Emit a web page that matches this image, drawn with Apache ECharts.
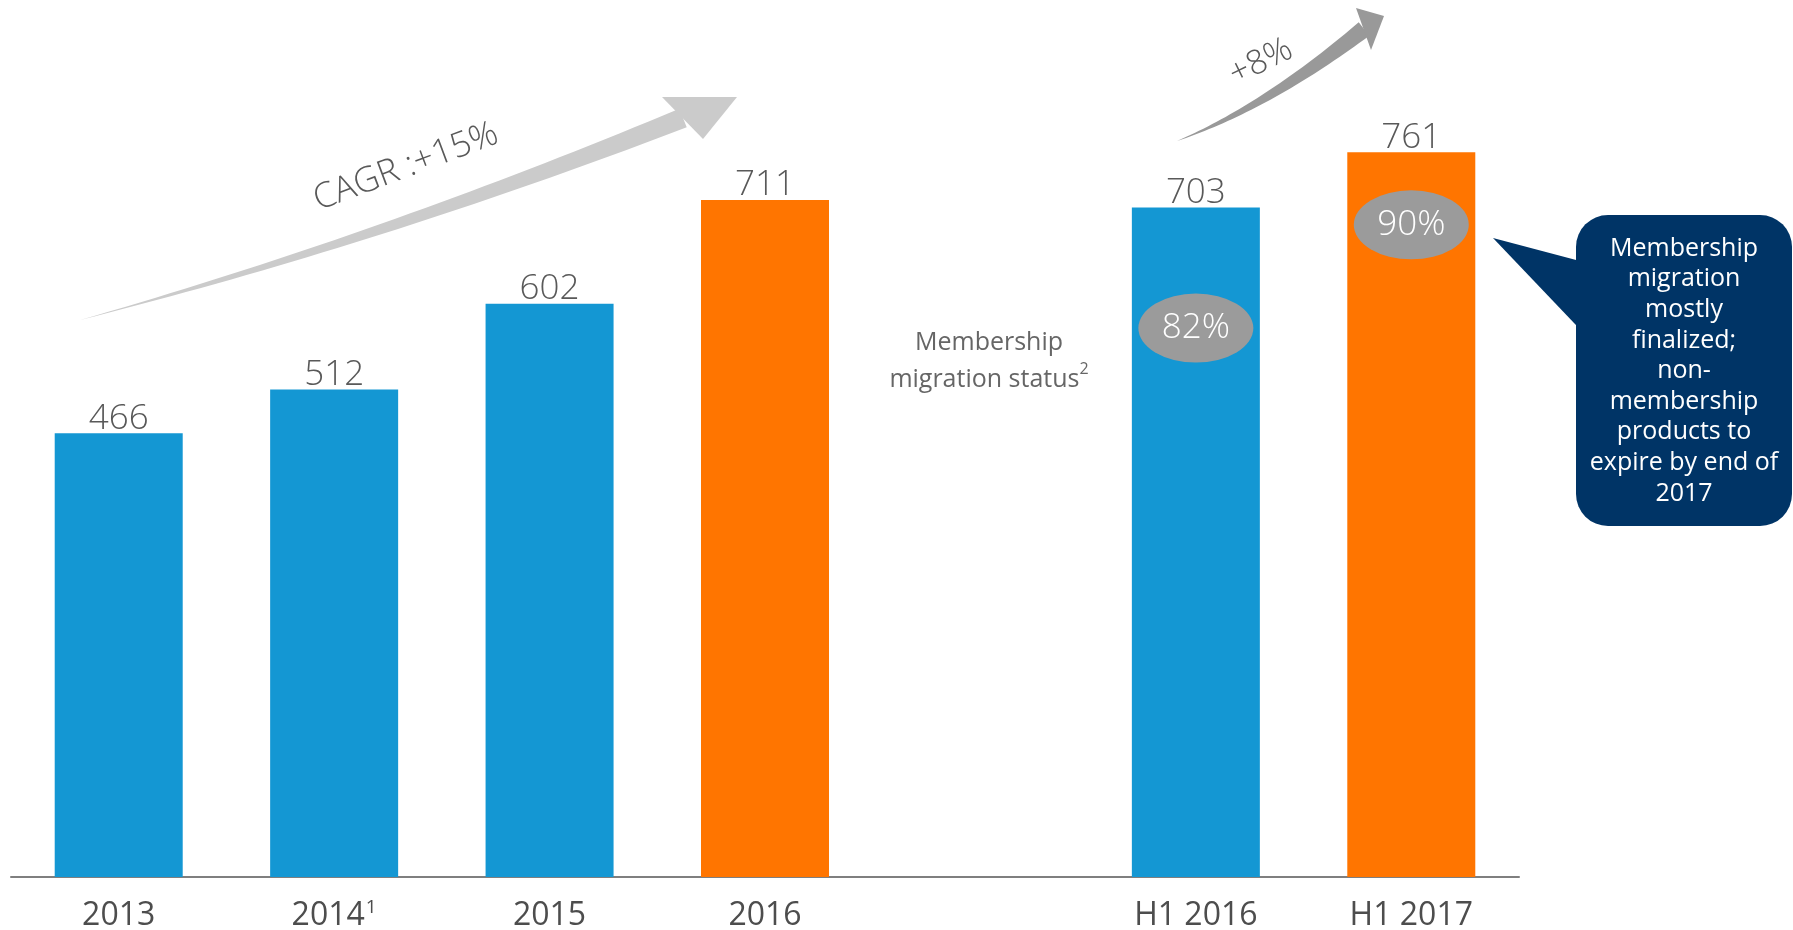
<!DOCTYPE html>
<html>
<head>
<meta charset="utf-8">
<script src="https://cdn.jsdelivr.net/npm/echarts@6/dist/echarts.min.js"></script>
<style>
html, body { margin: 0; padding: 0; background: #fff; }
#main { width: 1793px; height: 930px; }
</style>
</head>
<body>
<div id="main"></div>
<script>
// data
const categories = ['2013', '2014', '2015', '2016', '', 'H1 2016', 'H1 2017']
const footnotes = ['', '1', '', '', '', '', '']
const revenue = [466, 512, 602, 711, null, 703, 761]
const highlight = [false, false, false, true, false, false, true]
const migrationShare = [null, null, null, null, null, 82, 90]
const calloutLines = ['Membership', 'migration', 'mostly', 'finalized;', 'non-', 'membership', 'products to', 'expire by end of', '2017']

const BLUE = '#1497d3'
const ORANGE = '#ff7500'
const TEXT = '#595959'
const FONT = '"Open Sans", "Noto Sans", sans-serif'

// tapered curved arrow body (quadratic curve, width grows towards the head)
const taperBody = (p0, c, p2, w0, w1) => {
  const up = [], low = []
  const n = 40
  for (let i = 0; i <= n; i++) {
    const t = i / n
    const x = (1 - t) * (1 - t) * p0[0] + 2 * (1 - t) * t * c[0] + t * t * p2[0]
    const y = (1 - t) * (1 - t) * p0[1] + 2 * (1 - t) * t * c[1] + t * t * p2[1]
    const dx = 2 * (1 - t) * (c[0] - p0[0]) + 2 * t * (p2[0] - c[0])
    const dy = 2 * (1 - t) * (c[1] - p0[1]) + 2 * t * (p2[1] - c[1])
    const len = Math.sqrt(dx * dx + dy * dy)
    const w = (w0 + (w1 - w0) * t) / 2
    up.push([x + dy / len * w, y - dx / len * w])
    low.push([x - dy / len * w, y + dx / len * w])
  }
  return up.concat(low.reverse())
}

const myChart = echarts.init(document.getElementById('main'))

const barData = revenue.map((v, i) => v == null ? '-' : {
  value: v,
  itemStyle: { color: highlight[i] ? ORANGE : BLUE }
})

// grey ellipses sit at the share of each bar
const shareData = migrationShare.map((p, i) => p == null ? '-' : {
  value: revenue[i] * p / 100,
  share: p
})

const option = {
  backgroundColor: '#fff',
  animation: false,
  grid: { left: 11, right: 274, top: 20, bottom: 53, outerBoundsMode: 'none', containLabel: false },
  xAxis: {
    type: 'category',
    data: categories,
    axisLine: { lineStyle: { color: '#7f7f7f', width: 2 } },
    axisTick: { show: false },
    axisLabel: {
      margin: 21,
      formatter: (v, i) => footnotes[i] ? '{a|' + v + '}{s|' + footnotes[i] + '}' : '{a|' + v + '}',
      rich: {
        a: { fontSize: 32, fontFamily: FONT, color: '#4d4d4d', lineHeight: 36 },
        s: { fontSize: 19, fontFamily: FONT, color: '#4d4d4d', lineHeight: 19, verticalAlign: 'top', padding: [0, 0, 0, 1] }
      }
    }
  },
  yAxis: {
    type: 'value',
    min: 0,
    max: 900,
    show: false,
    splitLine: { show: false }
  },
  series: [
    {
      type: 'bar',
      data: barData,
      barWidth: 128,
      label: {
        show: true,
        position: 'top',
        distance: -3,
        fontSize: 35,
        fontWeight: 300,
        fontFamily: FONT,
        color: TEXT
      }
    },
    {
      type: 'scatter',
      data: shareData,
      symbol: 'circle',
      symbolSize: [115, 69],
      z: 5,
      itemStyle: { color: '#9b9b9b', opacity: 1 },
      label: {
        show: true,
        position: 'inside',
        formatter: (p) => p.data.share + '%',
        fontSize: 35,
        fontWeight: 300,
        fontFamily: FONT,
        color: '#fff'
      }
    }
  ],
  graphic: [
    // CAGR arrow
    { type: 'polygon', shape: { points: taperBody([80, 320], [381, 239], [683, 118], 0, 20) }, style: { fill: '#cbcbcb' } },
    { type: 'polygon', shape: { points: [[662, 97], [737, 97], [703, 139]] }, style: { fill: '#cbcbcb' } },
    {
      type: 'text', x: 406, y: 167, rotation: 20.6 * Math.PI / 180,
      style: { text: 'CAGR :+15%', fontSize: 35, fontWeight: 300, fontFamily: FONT, fill: TEXT, align: 'center', verticalAlign: 'middle' }
    },
    // H1 growth arrow
    { type: 'polygon', shape: { points: taperBody([1177, 141], [1266, 107], [1364, 29], 0, 17) }, style: { fill: '#999' } },
    { type: 'polygon', shape: { points: [[1356, 8], [1384, 16], [1371, 50]] }, style: { fill: '#999' } },
    {
      type: 'text', x: 1261, y: 62, rotation: 26 * Math.PI / 180,
      style: { text: '+8%', fontSize: 34, fontWeight: 300, fontFamily: FONT, fill: TEXT, align: 'center', verticalAlign: 'middle' }
    },
    // membership migration caption
    {
      type: 'text', x: 989, y: 361,
      style: {
        text: '{a|Membership}\n{a|migration status}{s|2}',
        align: 'center',
        verticalAlign: 'middle',
        rich: {
          a: { fontSize: 25, fontFamily: FONT, fill: '#666', lineHeight: 37 },
          s: { fontSize: 16, fontFamily: FONT, fill: '#666', lineHeight: 24, verticalAlign: 'top' }
        }
      }
    },
    // callout box
    { type: 'polygon', shape: { points: [[1595, 265], [1493, 238], [1595, 345]] }, style: { fill: '#003466' } },
    { type: 'rect', shape: { x: 1576, y: 215, width: 216, height: 311, r: 32 }, style: { fill: '#003466' } },
    {
      type: 'text', x: 1684, y: 371,
      style: {
        text: calloutLines.join('\n'),
        fontSize: 25,
        lineHeight: 30.6,
        fontFamily: FONT,
        fill: '#fff',
        align: 'center',
        verticalAlign: 'middle'
      }
    }
  ]
}

myChart.setOption(option)
</script>
</body>
</html>
